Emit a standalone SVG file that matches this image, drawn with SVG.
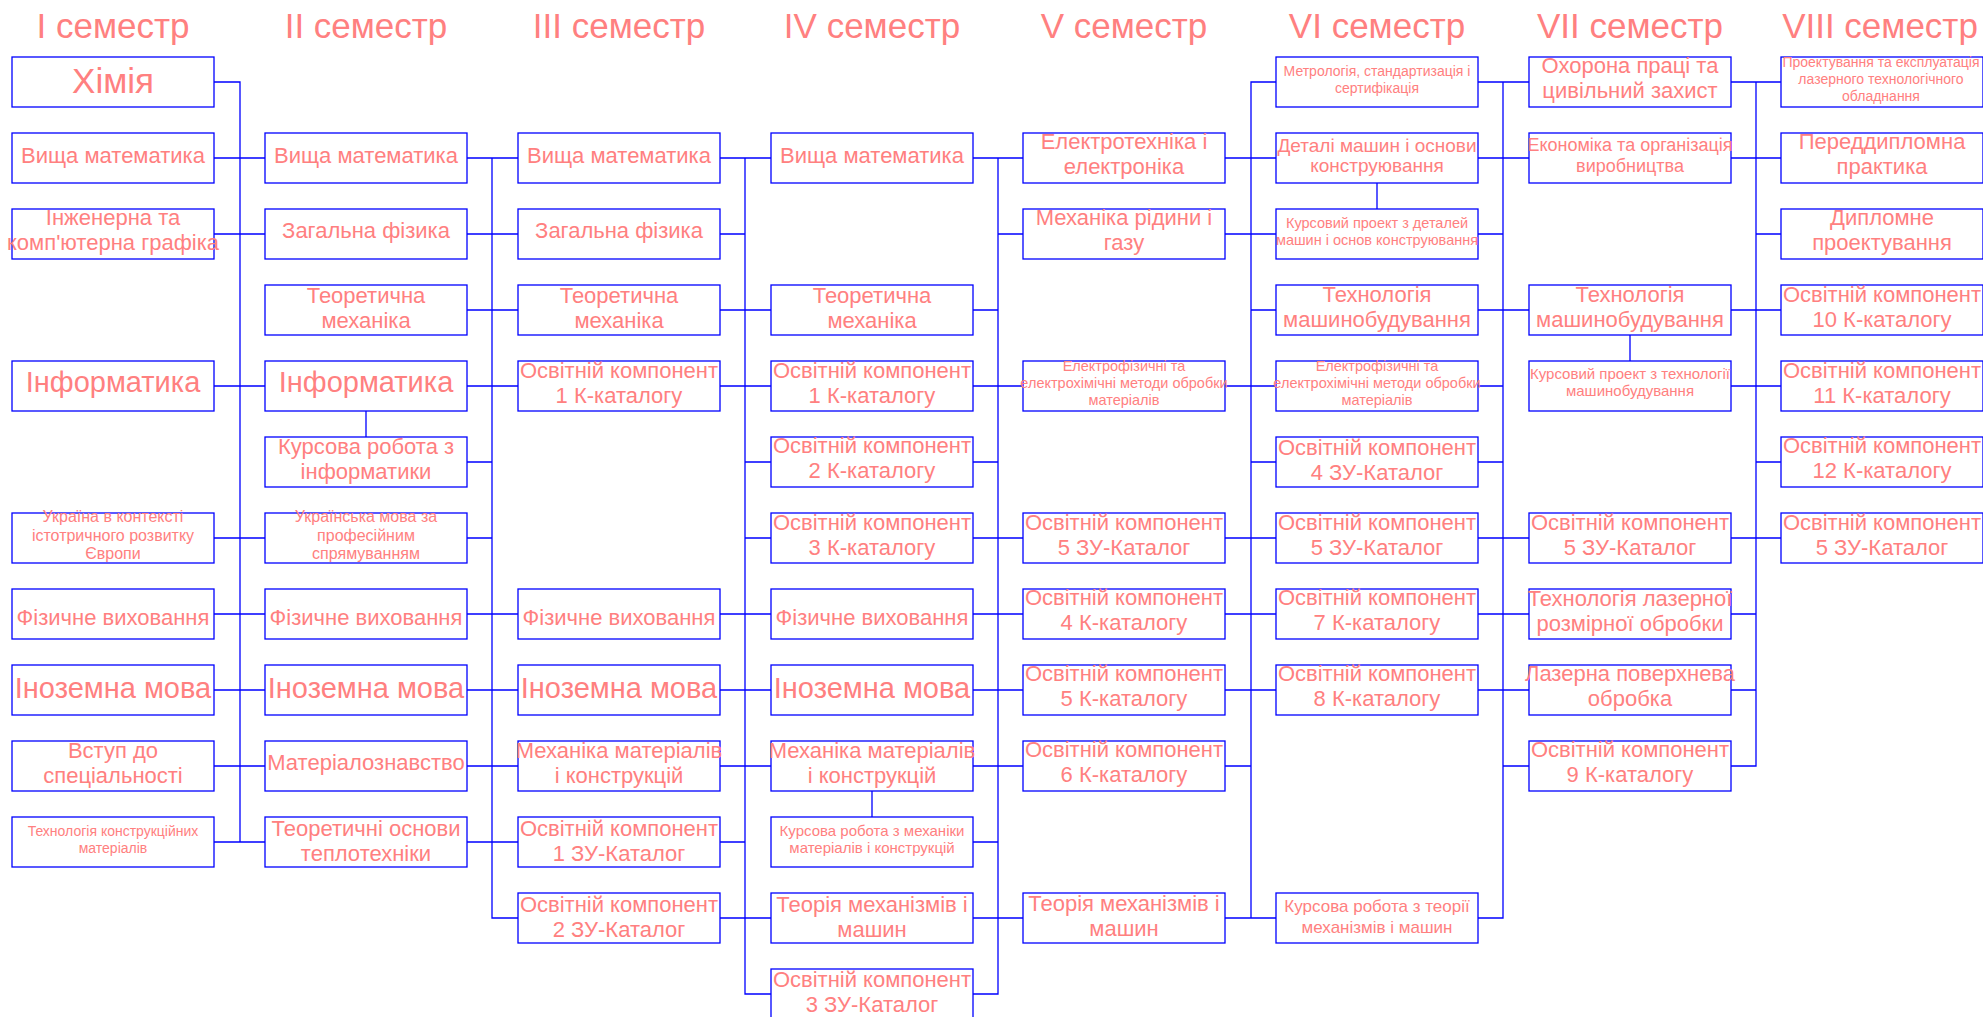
<svg xmlns="http://www.w3.org/2000/svg" width="1983" height="1017" viewBox="0 0 1983 1017">
<style>
.bg{fill:#fff}
.box{fill:#fff;stroke:#0000ff;stroke-width:1.3}
.ln{fill:none;stroke:#0000ff;stroke-width:1.3}
text{font-family:"Liberation Sans",Arial,sans-serif;fill:#ff8080;text-anchor:middle}
.h{font-size:35px}
.s35{font-size:35px}
.s29{font-size:29px}
.s22{font-size:22px}
.s19{font-size:19px}
.s18{font-size:18px}
.s17{font-size:17px}
.s16{font-size:16px}
.s15{font-size:15px}
.s145{font-size:14.5px}
.s14{font-size:14px}
</style>
<rect class="bg" x="0" y="0" width="1983" height="1017"/>
<g id="headers">
<text class="h" x="113" y="38">I семестр</text>
<text class="h" x="366" y="38">II семестр</text>
<text class="h" x="619" y="38">III семестр</text>
<text class="h" x="872" y="38">IV семестр</text>
<text class="h" x="1124" y="38">V семестр</text>
<text class="h" x="1377" y="38">VI семестр</text>
<text class="h" x="1630" y="38">VII семестр</text>
<text class="h" x="1880" y="38">VIII семестр</text>
</g>
<g id="connectors">
<path class="ln" d="M214 82H240V842H265M214 842H240M214 158H265M214 234H265M214 386H265M214 538H265M214 614H265M214 690H265M214 766H265"/>
<path class="ln" d="M492 158V918H518M467 158H518M467 234H518M467 310H518M467 386H518M467 462H492M467 538H492M467 614H518M467 690H518M467 766H518M467 842H518"/>
<path class="ln" d="M745 158V994H771M720 158H771M720 234H745M720 310H771M720 386H771M745 462H771M745 538H771M720 614H771M720 690H771M720 766H771M720 842H745M720 918H771"/>
<path class="ln" d="M998 158V994H973M973 158H1023M998 234H1023M973 310H998M973 386H1023M973 462H998M973 538H1023M973 614H1023M973 690H1023M973 766H1023M973 842H998M973 918H1023"/>
<path class="ln" d="M1276 82H1251V918M1225 158H1276M1225 234H1276M1251 310H1276M1225 386H1276M1251 462H1276M1225 538H1276M1225 614H1276M1225 690H1276M1225 766H1251M1225 918H1276"/>
<path class="ln" d="M1503 82V918H1478M1478 82H1529M1478 158H1529M1478 234H1503M1478 310H1529M1478 386H1503M1478 462H1503M1478 538H1529M1478 614H1529M1478 690H1529M1503 766H1529"/>
<path class="ln" d="M1756 82V766H1731M1731 82H1781M1731 158H1781M1756 234H1781M1731 310H1781M1731 386H1781M1756 462H1781M1731 538H1781M1731 614H1756M1731 690H1756"/>
<path class="ln" d="M366 411V437M872 791V817M1377 183V209M1630 335V361"/>
</g>

<!-- Semester I -->
<g id="s1-chem"><rect class="box" x="12" y="57" width="202" height="50"/><text class="s35" x="113" y="93">Хімія</text></g>
<g id="s1-math"><rect class="box" x="12" y="133" width="202" height="50"/><text class="s22" x="113" y="163">Вища математика</text></g>
<g id="s1-graph"><rect class="box" x="12" y="209" width="202" height="50"/><text class="s22"><tspan x="113" y="225">Інженерна та</tspan><tspan x="113" y="250">комп'ютерна графіка</tspan></text></g>
<g id="s1-inf"><rect class="box" x="12" y="361" width="202" height="50"/><text class="s29" x="113" y="392">Інформатика</text></g>
<g id="s1-hist"><rect class="box" x="12" y="513" width="202" height="50"/><text class="s16"><tspan x="113" y="522">Україна в контексті</tspan><tspan x="113" y="540.5">істотричного розвитку</tspan><tspan x="113" y="559">Європи</tspan></text></g>
<g id="s1-pe"><rect class="box" x="12" y="589" width="202" height="50"/><text class="s22" x="113" y="625">Фізичне виховання</text></g>
<g id="s1-lang"><rect class="box" x="12" y="665" width="202" height="50"/><text class="s29" x="113" y="698">Іноземна мова</text></g>
<g id="s1-intro"><rect class="box" x="12" y="741" width="202" height="50"/><text class="s22"><tspan x="113" y="758">Вступ до</tspan><tspan x="113" y="783">спеціальності</tspan></text></g>
<g id="s1-tcm"><rect class="box" x="12" y="817" width="202" height="50"/><text class="s14"><tspan x="113" y="836">Технологія конструкційних</tspan><tspan x="113" y="853">матеріалів</tspan></text></g>

<!-- Semester II -->
<g id="s2-math"><rect class="box" x="265" y="133" width="202" height="50"/><text class="s22" x="366" y="163">Вища математика</text></g>
<g id="s2-phys"><rect class="box" x="265" y="209" width="202" height="50"/><text class="s22" x="366" y="238">Загальна фізика</text></g>
<g id="s2-mech"><rect class="box" x="265" y="285" width="202" height="50"/><text class="s22"><tspan x="366" y="303">Теоретична</tspan><tspan x="366" y="328">механіка</tspan></text></g>
<g id="s2-inf"><rect class="box" x="265" y="361" width="202" height="50"/><text class="s29" x="366" y="392">Інформатика</text></g>
<g id="s2-infcw"><rect class="box" x="265" y="437" width="202" height="50"/><text class="s22"><tspan x="366" y="454">Курсова робота з</tspan><tspan x="366" y="479">інформатики</tspan></text></g>
<g id="s2-ukr"><rect class="box" x="265" y="513" width="202" height="50"/><text class="s16"><tspan x="366" y="522">Українська мова за</tspan><tspan x="366" y="540.5">професійним</tspan><tspan x="366" y="559">спрямуванням</tspan></text></g>
<g id="s2-pe"><rect class="box" x="265" y="589" width="202" height="50"/><text class="s22" x="366" y="625">Фізичне виховання</text></g>
<g id="s2-lang"><rect class="box" x="265" y="665" width="202" height="50"/><text class="s29" x="366" y="698">Іноземна мова</text></g>
<g id="s2-matsci"><rect class="box" x="265" y="741" width="202" height="50"/><text class="s22" x="366" y="770">Матеріалознавство</text></g>
<g id="s2-heat"><rect class="box" x="265" y="817" width="202" height="50"/><text class="s22"><tspan x="366" y="836">Теоретичні основи</tspan><tspan x="366" y="861">теплотехніки</tspan></text></g>

<!-- Semester III -->
<g id="s3-math"><rect class="box" x="518" y="133" width="202" height="50"/><text class="s22" x="619" y="163">Вища математика</text></g>
<g id="s3-phys"><rect class="box" x="518" y="209" width="202" height="50"/><text class="s22" x="619" y="238">Загальна фізика</text></g>
<g id="s3-mech"><rect class="box" x="518" y="285" width="202" height="50"/><text class="s22"><tspan x="619" y="303">Теоретична</tspan><tspan x="619" y="328">механіка</tspan></text></g>
<g id="s3-k1"><rect class="box" x="518" y="361" width="202" height="50"/><text class="s22"><tspan x="619" y="378">Освітній компонент</tspan><tspan x="619" y="403">1 К-каталогу</tspan></text></g>
<g id="s3-pe"><rect class="box" x="518" y="589" width="202" height="50"/><text class="s22" x="619" y="625">Фізичне виховання</text></g>
<g id="s3-lang"><rect class="box" x="518" y="665" width="202" height="50"/><text class="s29" x="619" y="698">Іноземна мова</text></g>
<g id="s3-mm"><rect class="box" x="518" y="741" width="202" height="50"/><text class="s22"><tspan x="619" y="758">Механіка матеріалів</tspan><tspan x="619" y="783">і конструкцій</tspan></text></g>
<g id="s3-zu1"><rect class="box" x="518" y="817" width="202" height="50"/><text class="s22"><tspan x="619" y="836">Освітній компонент</tspan><tspan x="619" y="861">1 ЗУ-Каталог</tspan></text></g>
<g id="s3-zu2"><rect class="box" x="518" y="893" width="202" height="50"/><text class="s22"><tspan x="619" y="912">Освітній компонент</tspan><tspan x="619" y="937">2 ЗУ-Каталог</tspan></text></g>

<!-- Semester IV -->
<g id="s4-math"><rect class="box" x="771" y="133" width="202" height="50"/><text class="s22" x="872" y="163">Вища математика</text></g>
<g id="s4-mech"><rect class="box" x="771" y="285" width="202" height="50"/><text class="s22"><tspan x="872" y="303">Теоретична</tspan><tspan x="872" y="328">механіка</tspan></text></g>
<g id="s4-k1"><rect class="box" x="771" y="361" width="202" height="50"/><text class="s22"><tspan x="872" y="378">Освітній компонент</tspan><tspan x="872" y="403">1 К-каталогу</tspan></text></g>
<g id="s4-k2"><rect class="box" x="771" y="437" width="202" height="50"/><text class="s22"><tspan x="872" y="453">Освітній компонент</tspan><tspan x="872" y="478">2 К-каталогу</tspan></text></g>
<g id="s4-k3"><rect class="box" x="771" y="513" width="202" height="50"/><text class="s22"><tspan x="872" y="530">Освітній компонент</tspan><tspan x="872" y="555">3 К-каталогу</tspan></text></g>
<g id="s4-pe"><rect class="box" x="771" y="589" width="202" height="50"/><text class="s22" x="872" y="625">Фізичне виховання</text></g>
<g id="s4-lang"><rect class="box" x="771" y="665" width="202" height="50"/><text class="s29" x="872" y="698">Іноземна мова</text></g>
<g id="s4-mm"><rect class="box" x="771" y="741" width="202" height="50"/><text class="s22"><tspan x="872" y="758">Механіка матеріалів</tspan><tspan x="872" y="783">і конструкцій</tspan></text></g>
<g id="s4-mmcw"><rect class="box" x="771" y="817" width="202" height="50"/><text class="s15"><tspan x="872" y="836">Курсова робота з механіки</tspan><tspan x="872" y="852.5">матеріалів і конструкцій</tspan></text></g>
<g id="s4-tmm"><rect class="box" x="771" y="893" width="202" height="50"/><text class="s22"><tspan x="872" y="912">Теорія механізмів і</tspan><tspan x="872" y="937">машин</tspan></text></g>
<g id="s4-zu3"><rect class="box" x="771" y="969" width="202" height="50"/><text class="s22"><tspan x="872" y="987">Освітній компонент</tspan><tspan x="872" y="1012">3 ЗУ-Каталог</tspan></text></g>

<!-- Semester V -->
<g id="s5-el"><rect class="box" x="1023" y="133" width="202" height="50"/><text class="s22"><tspan x="1124" y="149">Електротехніка і</tspan><tspan x="1124" y="174">електроніка</tspan></text></g>
<g id="s5-fluid"><rect class="box" x="1023" y="209" width="202" height="50"/><text class="s22"><tspan x="1124" y="225">Механіка рідини і</tspan><tspan x="1124" y="250">газу</tspan></text></g>
<g id="s5-efm"><rect class="box" x="1023" y="361" width="202" height="50"/><text class="s145"><tspan x="1124" y="371">Електрофізичні та</tspan><tspan x="1124" y="388">електрохімічні методи обробки</tspan><tspan x="1124" y="405">матеріалів</tspan></text></g>
<g id="s5-zu5"><rect class="box" x="1023" y="513" width="202" height="50"/><text class="s22"><tspan x="1124" y="530">Освітній компонент</tspan><tspan x="1124" y="555">5 ЗУ-Каталог</tspan></text></g>
<g id="s5-k4"><rect class="box" x="1023" y="589" width="202" height="50"/><text class="s22"><tspan x="1124" y="605">Освітній компонент</tspan><tspan x="1124" y="630">4 К-каталогу</tspan></text></g>
<g id="s5-k5"><rect class="box" x="1023" y="665" width="202" height="50"/><text class="s22"><tspan x="1124" y="681">Освітній компонент</tspan><tspan x="1124" y="706">5 К-каталогу</tspan></text></g>
<g id="s5-k6"><rect class="box" x="1023" y="741" width="202" height="50"/><text class="s22"><tspan x="1124" y="757">Освітній компонент</tspan><tspan x="1124" y="782">6 К-каталогу</tspan></text></g>
<g id="s5-tmm"><rect class="box" x="1023" y="893" width="202" height="50"/><text class="s22"><tspan x="1124" y="911">Теорія механізмів і</tspan><tspan x="1124" y="936">машин</tspan></text></g>

<!-- Semester VI -->
<g id="s6-metr"><rect class="box" x="1276" y="57" width="202" height="50"/><text class="s14"><tspan x="1377" y="76">Метрологія, стандартизація і</tspan><tspan x="1377" y="93">сертифікація</tspan></text></g>
<g id="s6-dm"><rect class="box" x="1276" y="133" width="202" height="50"/><text class="s19"><tspan x="1377" y="152">Деталі машин і основи</tspan><tspan x="1377" y="172">конструювання</tspan></text></g>
<g id="s6-dmcp"><rect class="box" x="1276" y="209" width="202" height="50"/><text class="s145"><tspan x="1377" y="228">Курсовий проект з деталей</tspan><tspan x="1377" y="245">машин і основ конструювання</tspan></text></g>
<g id="s6-tm"><rect class="box" x="1276" y="285" width="202" height="50"/><text class="s22"><tspan x="1377" y="302">Технологія</tspan><tspan x="1377" y="327">машинобудування</tspan></text></g>
<g id="s6-efm"><rect class="box" x="1276" y="361" width="202" height="50"/><text class="s145"><tspan x="1377" y="371">Електрофізичні та</tspan><tspan x="1377" y="388">електрохімічні методи обробки</tspan><tspan x="1377" y="405">матеріалів</tspan></text></g>
<g id="s6-zu4"><rect class="box" x="1276" y="437" width="202" height="50"/><text class="s22"><tspan x="1377" y="455">Освітній компонент</tspan><tspan x="1377" y="480">4 ЗУ-Каталог</tspan></text></g>
<g id="s6-zu5"><rect class="box" x="1276" y="513" width="202" height="50"/><text class="s22"><tspan x="1377" y="530">Освітній компонент</tspan><tspan x="1377" y="555">5 ЗУ-Каталог</tspan></text></g>
<g id="s6-k7"><rect class="box" x="1276" y="589" width="202" height="50"/><text class="s22"><tspan x="1377" y="605">Освітній компонент</tspan><tspan x="1377" y="630">7 К-каталогу</tspan></text></g>
<g id="s6-k8"><rect class="box" x="1276" y="665" width="202" height="50"/><text class="s22"><tspan x="1377" y="681">Освітній компонент</tspan><tspan x="1377" y="706">8 К-каталогу</tspan></text></g>
<g id="s6-tmmcw"><rect class="box" x="1276" y="893" width="202" height="50"/><text class="s17"><tspan x="1377" y="912">Курсова робота з теорії</tspan><tspan x="1377" y="933">механізмів і машин</tspan></text></g>

<!-- Semester VII -->
<g id="s7-safety"><rect class="box" x="1529" y="57" width="202" height="50"/><text class="s22"><tspan x="1630" y="73">Охорона праці та</tspan><tspan x="1630" y="98">цивільний захист</tspan></text></g>
<g id="s7-econ"><rect class="box" x="1529" y="133" width="202" height="50"/><text class="s18"><tspan x="1630" y="151">Економіка та організація</tspan><tspan x="1630" y="172">виробництва</tspan></text></g>
<g id="s7-tm"><rect class="box" x="1529" y="285" width="202" height="50"/><text class="s22"><tspan x="1630" y="302">Технологія</tspan><tspan x="1630" y="327">машинобудування</tspan></text></g>
<g id="s7-tmcp"><rect class="box" x="1529" y="361" width="202" height="50"/><text class="s15"><tspan x="1630" y="379">Курсовий проект з технології</tspan><tspan x="1630" y="396">машинобудування</tspan></text></g>
<g id="s7-zu5"><rect class="box" x="1529" y="513" width="202" height="50"/><text class="s22"><tspan x="1630" y="530">Освітній компонент</tspan><tspan x="1630" y="555">5 ЗУ-Каталог</tspan></text></g>
<g id="s7-laser"><rect class="box" x="1529" y="589" width="202" height="50"/><text class="s22"><tspan x="1630" y="606">Технологія лазерної</tspan><tspan x="1630" y="631">розмірної обробки</tspan></text></g>
<g id="s7-surf"><rect class="box" x="1529" y="665" width="202" height="50"/><text class="s22"><tspan x="1630" y="681">Лазерна поверхнева</tspan><tspan x="1630" y="706">обробка</tspan></text></g>
<g id="s7-k9"><rect class="box" x="1529" y="741" width="202" height="50"/><text class="s22"><tspan x="1630" y="757">Освітній компонент</tspan><tspan x="1630" y="782">9 К-каталогу</tspan></text></g>

<!-- Semester VIII -->
<g id="s8-design"><rect class="box" x="1781" y="57" width="202" height="50"/><text class="s14"><tspan x="1881" y="67">Проектування та експлуатація</tspan><tspan x="1881" y="83.5">лазерного технологічного</tspan><tspan x="1881" y="100.5">обладнання</tspan></text></g>
<g id="s8-prediploma"><rect class="box" x="1781" y="133" width="202" height="50"/><text class="s22"><tspan x="1882" y="149">Переддипломна</tspan><tspan x="1882" y="174">практика</tspan></text></g>
<g id="s8-diploma"><rect class="box" x="1781" y="209" width="202" height="50"/><text class="s22"><tspan x="1882" y="225">Дипломне</tspan><tspan x="1882" y="250">проектування</tspan></text></g>
<g id="s8-k10"><rect class="box" x="1781" y="285" width="202" height="50"/><text class="s22"><tspan x="1882" y="302">Освітній компонент</tspan><tspan x="1882" y="327">10 К-каталогу</tspan></text></g>
<g id="s8-k11"><rect class="box" x="1781" y="361" width="202" height="50"/><text class="s22"><tspan x="1882" y="378">Освітній компонент</tspan><tspan x="1882" y="403">11 К-каталогу</tspan></text></g>
<g id="s8-k12"><rect class="box" x="1781" y="437" width="202" height="50"/><text class="s22"><tspan x="1882" y="453">Освітній компонент</tspan><tspan x="1882" y="478">12 К-каталогу</tspan></text></g>
<g id="s8-zu5"><rect class="box" x="1781" y="513" width="202" height="50"/><text class="s22"><tspan x="1882" y="530">Освітній компонент</tspan><tspan x="1882" y="555">5 ЗУ-Каталог</tspan></text></g>
</svg>
